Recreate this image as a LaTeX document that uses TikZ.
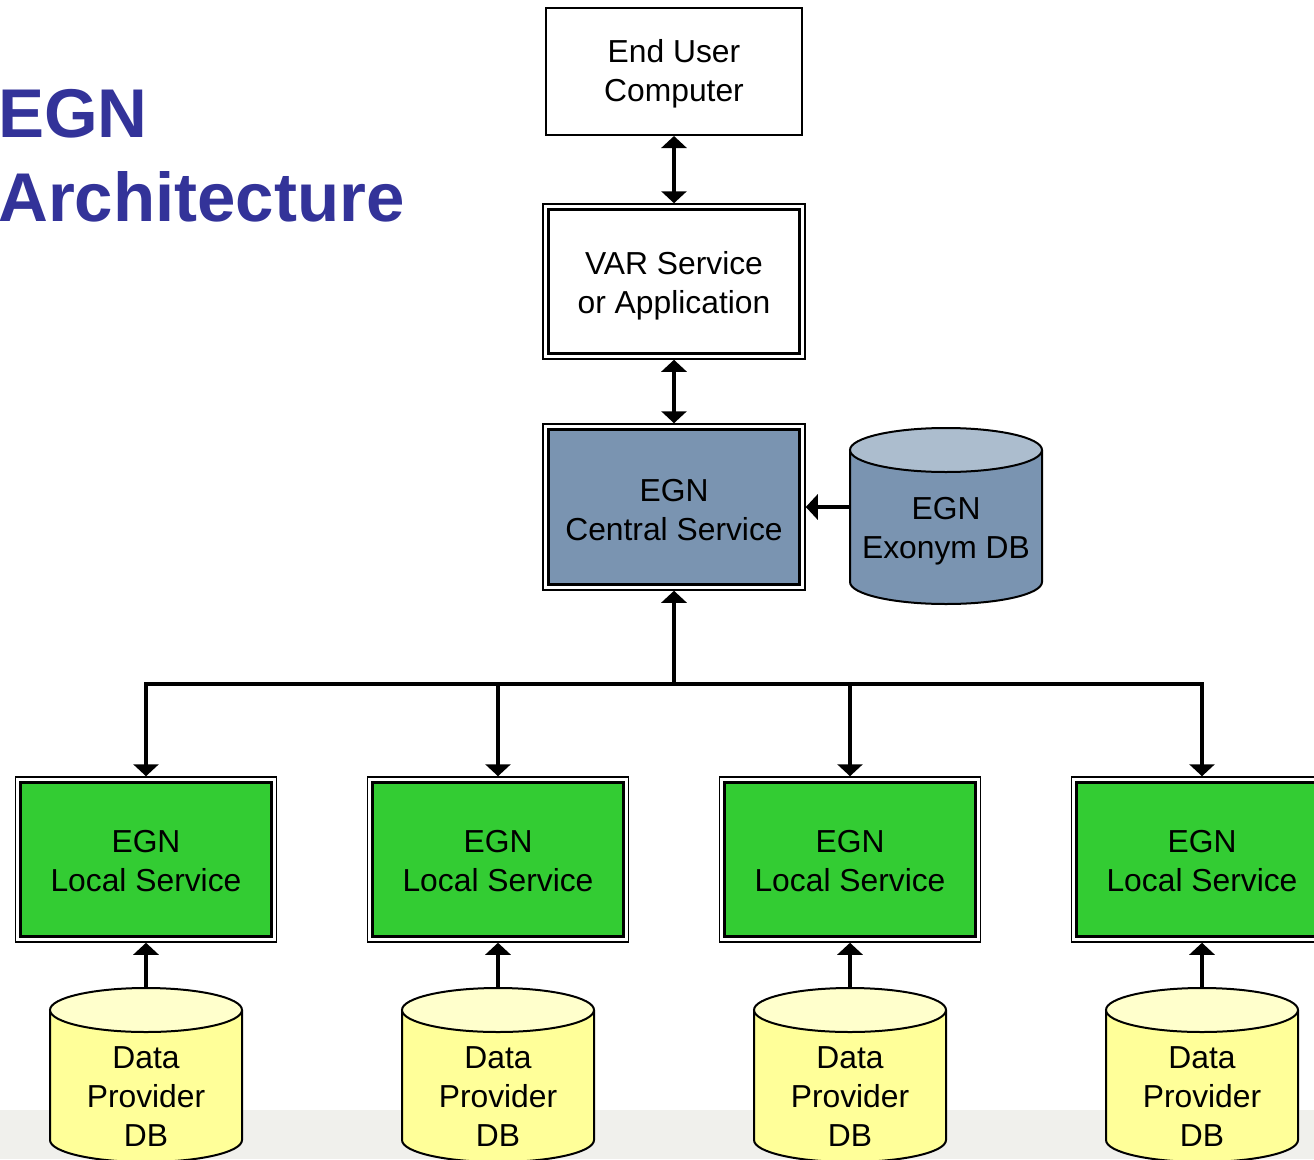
\documentclass[tikz,border=0pt]{standalone}
\usepackage{fontspec}
\setmainfont{Liberation Sans}
\usetikzlibrary{arrows.meta,calc}
\definecolor{titleblue}{RGB}{51,51,153}
\definecolor{steel}{RGB}{122,148,177}
\definecolor{steeltop}{RGB}{172,189,206}
\definecolor{lsgreen}{RGB}{51,204,51}
\definecolor{dbyellow}{RGB}{255,255,153}
\definecolor{dbtop}{RGB}{255,255,204}
\definecolor{stripgray}{RGB}{240,240,236}
\tikzset{
  txt/.style={font=\fontsize{31.8}{39}\selectfont, align=center, inner sep=0pt},
  plainbox/.style={draw, line width=2pt, minimum width=256pt, minimum height=127pt, inner sep=0pt},
  outerbox/.style={draw, line width=1.5pt, inner sep=0pt},
  conn/.style={line width=4pt, -{Triangle[width=25pt,length=12pt]}},
  biconn/.style={line width=4pt, {Triangle[width=25pt,length=12pt]}-{Triangle[width=25pt,length=12pt]}},
  dbframe/.style={inner sep=0pt, minimum width=192pt},
}
\newcommand\drawcyl[6]{%
  % #1 name, #2 cx, #3 top-ellipse cy, #4 bottom-ellipse cy, #5 body colour, #6 top colour
  \fill[#5] (#2-96,#3) -- (#2-96,#4) arc[start angle=180,end angle=0,x radius=96,y radius=22] -- (#2+96,#3) -- cycle;
  \draw[line width=2pt] (#2-96,#3) -- (#2-96,#4) arc[start angle=180,end angle=0,x radius=96,y radius=22] -- (#2+96,#3);
  \draw[line width=2pt, fill=#6] (#2,#3) ellipse[x radius=96, y radius=22];
  \node[dbframe, minimum height={#4-#3+44}] (#1) at (#2,{(#3+#4)/2}) {};
}
\begin{document}
\begin{tikzpicture}[x=1pt,y=-1pt]
\useasboundingbox (0,0) rectangle (1314,1159);
\clip (0,0) rectangle (1314,1159);
\fill[stripgray] (0,1110) rectangle (1314,1159);

% title
\node[anchor=base west, inner sep=0pt, text=titleblue, font=\fontsize{69}{84}\bfseries\selectfont] (t1) at (-2,137) {EGN};
\node[anchor=base west, inner sep=0pt, text=titleblue, font=\fontsize{69}{84}\bfseries\selectfont] (t2) at (-2,221) {Architecture};

% end user
\node[plainbox] (user) at (674,71.5) {};
\node[txt] (usert) at (674,74) {End User\\Computer};

% VAR
\node[outerbox, fill=white, minimum width=262pt, minimum height=155pt] (var) at (674,281.5) {};
\draw[line width=3pt] ([shift={(6,6)}]var.north west) rectangle ([shift={(-6,-6)}]var.south east);
\node[txt] (vart) at (674,286) {VAR Service\\or Application};

% central
\node[outerbox, fill=white, minimum width=262pt, minimum height=166pt] (central) at (674,507) {};
\draw[line width=3pt, fill=steel] ([shift={(6,6)}]central.north west) rectangle ([shift={(-6,-6)}]central.south east);
\node[txt] (centralt) at (674,510) {EGN\\Central Service};

% exonym db
\drawcyl{exo}{946}{450}{582}{steel}{steeltop}
\node[txt] (exot) at (946,531) {EGN\\Exonym DB};

% local services and data DBs
\foreach \i/\cx in {1/146,2/498,3/850,4/1202}{
  \node[outerbox, fill=white, minimum width=261pt, minimum height=165pt] (ls\i) at (\cx,859.5) {};
  \draw[line width=3pt, fill=lsgreen] ([shift={(6,6)}]ls\i.north west) rectangle ([shift={(-6,-6)}]ls\i.south east);
  \node[txt] (lst\i) at (\cx,861.5) {EGN\\Local Service};
  \drawcyl{db\i}{\cx}{1010}{1140}{dbyellow}{dbtop}
  \node[txt] (dbt\i) at (\cx,1096.5) {Data\\Provider\\DB};
  \draw[conn] (db\i.north) -- (ls\i.south);
}

% connectors
\draw[biconn] (user.south) -- (var.north);
\draw[biconn] (var.south) -- (central.north);
\draw[conn] (exo.west |- central.east) -- (central.east);
\coordinate (bus) at (674,684);
\draw[conn] (bus) -- (central.south);
\foreach \i in {1,2,3,4}{
  \draw[conn] (bus) -| (ls\i.north);
}
\end{tikzpicture}
\end{document}
